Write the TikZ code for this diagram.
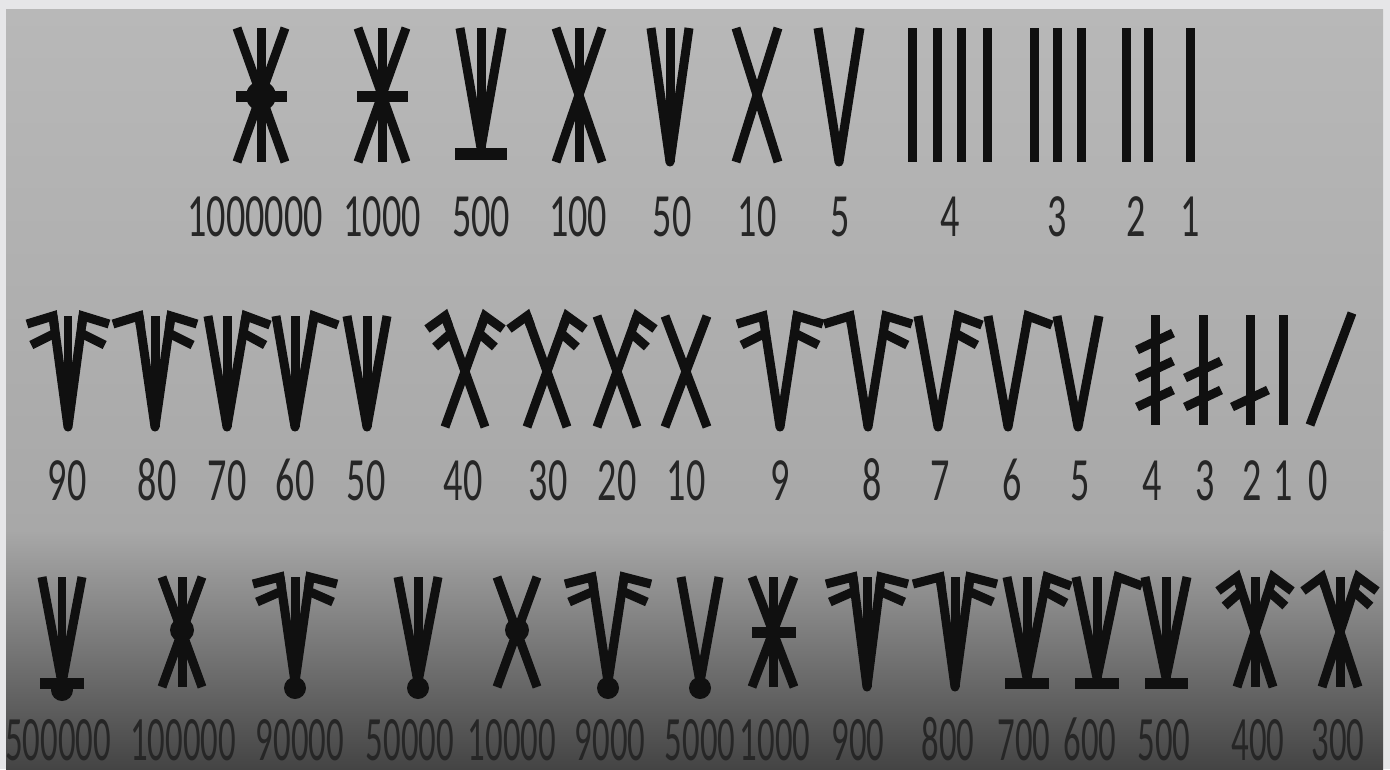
\documentclass[tikz,border=0pt]{standalone}
\usepackage{fontspec}
\usepackage{tikz}
\newfontfamily\numfont{Carlito}[FakeStretch=0.62]
\newfontfamily\numfontnarrow{Carlito}[FakeStretch=0.55]
\definecolor{paper}{HTML}{E6E6E8}
\definecolor{stonetop}{HTML}{B8B8B8}
\definecolor{stonemid}{HTML}{A8A8A8}
\definecolor{stonelow}{HTML}{7E7E7E}
\definecolor{stonedark}{HTML}{444444}
\definecolor{ink}{HTML}{101010}
\definecolor{digit}{HTML}{262626}
% glyph parts, all in picture pixels: centre x, top y, bottom y, half width
\newcommand{\runeV}[4]{\draw[rune] (#1-#4,#2) -- (#1,#3) -- (#1+#4,#2);}
\newcommand{\runeX}[4]{\draw[rune] (#1-#4,#2) -- (#1+#4,#3) (#1+#4,#2) -- (#1-#4,#3);}
\newcommand{\runeI}[3]{\draw[rune] (#1,#2) -- (#1,#3);}
\newcommand{\runeBar}[3]{\draw[runebar] (#1,#3) -- (#2,#3);}
\newcommand{\runeDot}[3]{\fill[ink] (#1,#2) circle (#3);}
% flags: centre x, top y, half width, arm slope, count, first flag, second flag
\newcommand{\flaggap}{16}
\newcommand{\runeFlags}[9]{%
    \draw[rune, line join=miter] (#1+#3-10*#4,#2+10) -- (#1+#3,#2) -- ++(#6,#7);
    \ifnum#5>1 \draw[rune] (#1+#3-\flaggap*#4,#2+\flaggap) -- ++(#8,#9);\fi
    \ifnum#5>2 \draw[rune, line join=miter] (#1-#3+10*#4,#2+10) -- (#1-#3,#2) -- ++(-#6,#7);\fi
    \ifnum#5>3 \draw[rune] (#1-#3+\flaggap*#4,#2+\flaggap) -- ++(-#8,#9);\fi
}

\begin{document}
\begin{tikzpicture}[x=0.02cm, y=-0.02cm,
    rune/.style={draw=ink, line width=0.18cm, line cap=butt, line join=round},
    runebar/.style={draw=ink, line width=0.22cm, line cap=butt},
    lbl/.style={anchor=base, text=digit, inner sep=0pt, font={\numfont\fontsize{35}{35}\selectfont}},
    lblnarrow/.style={lbl, font={\numfontnarrow\fontsize{36}{36}\selectfont}}
]
    % stone background
    \fill[paper] (0,0) rectangle (1390,769);
    \useasboundingbox (0,0) rectangle (1390,769);
    \shade[top color=stonetop, bottom color=stonemid] (6,9) rectangle (1383,530);
    \shade[top color=stonemid, middle color=stonelow, bottom color=stonedark] (6,530) rectangle (1383,769);

    % first row
    \runeX{261}{28}{162}{24} \runeI{261}{28}{162} \runeBar{236}{287}{96} \runeDot{261}{96}{15}
    \runeX{382}{28}{162}{24} \runeI{382}{28}{162} \runeBar{357}{408}{96}
    \runeV{481}{28}{148}{21} \runeI{481}{28}{148} \draw[runebar, line width=0.24cm] (455,154) -- (507,154);
    \runeX{579}{28}{162}{23} \runeI{579}{28}{162}
    \runeV{670}{28}{162}{19} \runeI{670}{28}{162}
    \runeX{757}{28}{162}{21}
    \runeV{839}{28}{162}{21}
    \foreach \x in {912,937,961,987,1034,1057,1081,1126,1148,1190}
        \runeI{\x}{28}{162};

    \node[lbl] (r1-1000000) at (255,236) {1000000};
    \node[lbl] (r1-1000) at (382,236) {1000};
    \node[lbl] (r1-500) at (481,236) {500};
    \node[lbl] (r1-100) at (578,236) {100};
    \node[lbl] (r1-50) at (672,236) {50};
    \node[lbl] (r1-10) at (757,236) {10};
    \node[lbl] (r1-5) at (840,236) {5};
    \node[lbl] (r1-4) at (950,236) {4};
    \node[lbl] (r1-3) at (1057,236) {3};
    \node[lbl] (r1-2) at (1136,236) {2};
    \node[lbl] (r1-1) at (1190,236) {1};

    % second row
    \renewcommand{\flaggap}{17}
    \runeV{68}{316}{427}{15} \runeI{68}{316}{427} \runeFlags{68}{316}{15}{0.135}{4}{26}{8}{24}{12}
    \runeV{155}{316}{427}{16} \runeI{155}{316}{427} \runeFlags{155}{316}{16}{0.145}{3}{26}{8}{24}{12}
    \runeV{227}{316}{427}{19} \runeI{227}{316}{427} \runeFlags{227}{316}{19}{0.17}{2}{24}{9}{22}{12}
    \runeV{295}{316}{427}{19} \runeI{295}{316}{427} \runeFlags{295}{316}{19}{0.17}{1}{24}{9}{22}{12}
    \runeV{367}{316}{427}{20} \runeI{367}{316}{427}
    \runeX{465}{316}{427}{20} \runeFlags{465}{316}{20}{0.36}{4}{18}{13}{16}{14}
    \runeX{547}{316}{427}{20} \runeFlags{547}{316}{20}{0.36}{3}{18}{13}{16}{14}
    \runeX{617}{316}{427}{20} \runeFlags{617}{316}{20}{0.36}{2}{18}{13}{16}{14}
    \runeX{686}{316}{427}{21}
    \runeV{780}{316}{427}{17} \runeFlags{780}{316}{17}{0.153}{4}{26}{8}{24}{12}
    \runeV{868}{316}{427}{18} \runeFlags{868}{316}{18}{0.162}{3}{26}{8}{24}{12}
    \runeV{938}{316}{427}{20} \runeFlags{938}{316}{20}{0.18}{2}{24}{9}{22}{12}
    \runeV{1008}{316}{427}{20} \runeFlags{1008}{316}{20}{0.18}{1}{24}{9}{22}{12}
    \runeV{1078}{316}{427}{21}
    \runeI{1155}{315}{425}
    \draw[rune] (1137,350) -- (1173,333) (1137,378) -- (1173,361) (1137,407) -- (1173,390);
    \runeI{1203}{315}{425}
    \draw[rune] (1185,378) -- (1221,361) (1185,407) -- (1221,390);
    \runeI{1250}{315}{425}
    \draw[rune] (1232,407) -- (1268,390);
    \runeI{1283}{315}{425}
    \draw[rune] (1310,425) -- (1352,313);

    \node[lbl] (r2-90) at (67,500) {90};
    \node[lbl] (r2-80) at (157,500) {80};
    \node[lbl] (r2-70) at (227,500) {70};
    \node[lbl] (r2-60) at (295,500) {60};
    \node[lbl] (r2-50) at (366,500) {50};
    \node[lbl] (r2-40) at (463,500) {40};
    \node[lbl] (r2-30) at (548,500) {30};
    \node[lbl] (r2-20) at (617,500) {20};
    \node[lbl] (r2-10) at (686,500) {10};
    \node[lbl] (r2-9) at (780,500) {9};
    \node[lbl] (r2-8) at (872,500) {8};
    \node[lbl] (r2-7) at (940,500) {7};
    \node[lbl] (r2-6) at (1012,500) {6};
    \node[lbl] (r2-5) at (1080,500) {5};
    \node[lbl] (r2-4) at (1152,500) {4};
    \node[lbl] (r2-3) at (1205,500) {3};
    \node[lbl] (r2-2) at (1252,500) {2};
    \node[lbl] (r2-1) at (1283,500) {1};
    \node[lbl] (r2-0) at (1318,500) {0};

    % third row
    \renewcommand{\flaggap}{14}
    \runeV{62}{577}{683}{20} \runeI{62}{577}{683} \runeBar{40}{84}{683} \runeDot{62}{690}{11}
    \runeX{182}{577}{687}{20} \runeI{182}{577}{687} \runeDot{182}{630}{12}
    \runeV{295}{577}{682}{15} \runeI{295}{577}{682} \runeFlags{295}{577}{15}{0.14}{4}{27}{7}{25}{11} \runeDot{295}{688}{11}
    \runeV{418}{577}{682}{20} \runeI{418}{577}{682} \runeDot{418}{688}{11}
    \runeX{517}{577}{687}{20} \runeDot{517}{630}{12}
    \runeV{608}{577}{682}{16} \runeFlags{608}{577}{16}{0.15}{4}{27}{7}{25}{11} \runeDot{608}{688}{11}
    \runeV{700}{577}{682}{19} \runeDot{700}{688}{11}
    \runeX{773}{577}{687}{21} \runeI{773}{577}{687} \runeBar{752}{796}{632}
    \runeV{867}{577}{687}{14} \runeI{867}{577}{687} \runeFlags{867}{577}{14}{0.13}{4}{27}{7}{25}{11}
    \runeV{955}{577}{687}{15} \runeI{955}{577}{687} \runeFlags{955}{577}{15}{0.14}{3}{27}{7}{25}{11}
    \runeV{1027}{577}{678}{20} \runeI{1027}{577}{678} \runeBar{1005}{1049}{683} \runeFlags{1027}{577}{20}{0.2}{2}{24}{9}{22}{12}
    \runeV{1097}{577}{678}{21} \runeI{1097}{577}{678} \runeBar{1075}{1119}{683} \runeFlags{1097}{577}{21}{0.21}{1}{24}{9}{22}{12}
    \runeV{1166}{577}{678}{21} \runeI{1166}{577}{678} \runeBar{1145}{1188}{683}
    \runeX{1255}{577}{687}{18} \runeI{1255}{577}{687} \runeFlags{1255}{577}{18}{0.33}{4}{19}{14}{17}{15}
    \runeX{1340}{577}{687}{18} \runeI{1340}{577}{687} \runeFlags{1340}{577}{18}{0.33}{3}{19}{14}{17}{15}

    \node[lblnarrow] (r3-500000) at (58,760) {500000};
    \node[lblnarrow] (r3-100000) at (183,760) {100000};
    \node[lblnarrow] (r3-90000) at (300,760) {90000};
    \node[lblnarrow] (r3-50000) at (410,760) {50000};
    \node[lblnarrow] (r3-10000) at (512,760) {10000};
    \node[lblnarrow] (r3-9000) at (610,760) {9000};
    \node[lblnarrow] (r3-5000) at (700,760) {5000};
    \node[lblnarrow] (r3-1000) at (775,760) {1000};
    \node[lblnarrow] (r3-900) at (858,760) {900};
    \node[lblnarrow] (r3-800) at (948,760) {800};
    \node[lblnarrow] (r3-700) at (1024,760) {700};
    \node[lblnarrow] (r3-600) at (1090,760) {600};
    \node[lblnarrow] (r3-500) at (1164,760) {500};
    \node[lblnarrow] (r3-400) at (1258,760) {400};
    \node[lblnarrow] (r3-300) at (1338,760) {300};
\end{tikzpicture}
\end{document}
